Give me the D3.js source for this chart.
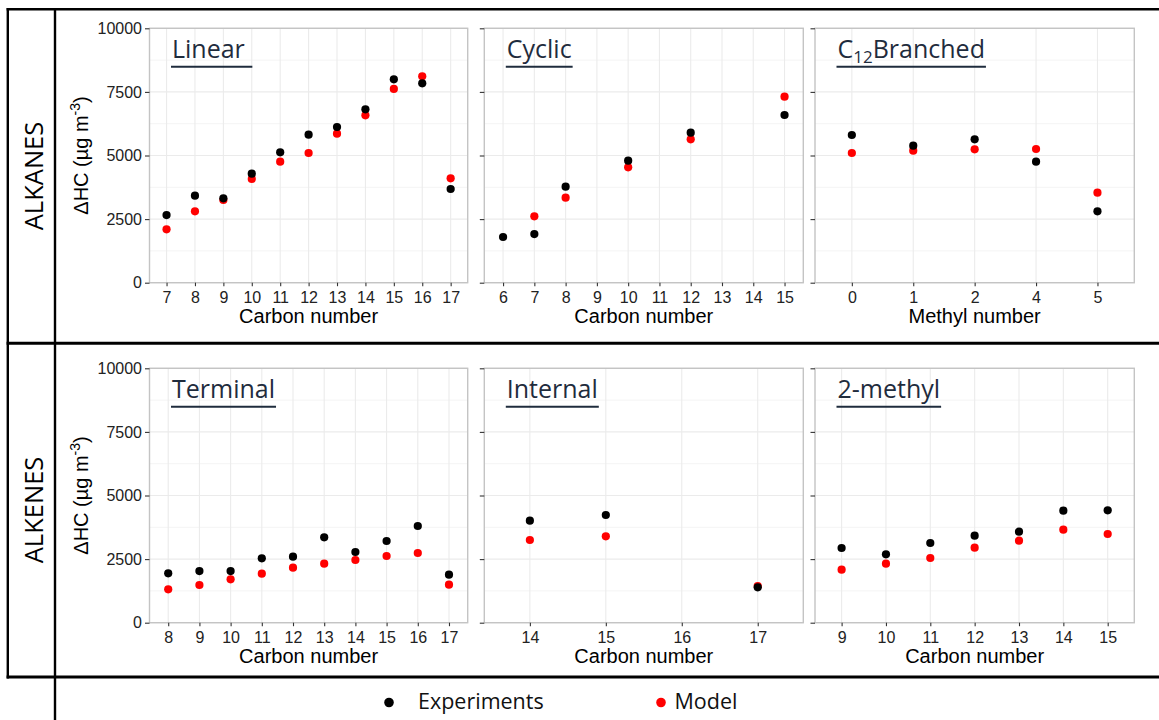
<!DOCTYPE html>
<html>
<head>
<meta charset="utf-8">
<script src="https://cdn.jsdelivr.net/npm/d3@7"></script>
<style>
  html, body { margin: 0; padding: 0; background: #fff; }
  svg { display: block; }
  .tick text { font-family: "Liberation Sans", Arial, sans-serif; }
</style>
</head>
<body>
<svg id="chart" width="1159" height="720"></svg>
<script>
// ---- data: ΔHC (µg m-3) per compound class ----
const yTicks = [0, 2500, 5000, 7500, 10000];
const yMinor = [1250, 3750, 6250, 8750];

// Alkanes
const linearCats   = ["7", "8", "9", "10", "11", "12", "13", "14", "15", "16", "17"];
const linearExp    = [2660, 3420, 3316, 4286, 5124, 5819, 6120, 6815, 7995, 7837, 3683];
const linearModel  = [2097, 2805, 3250, 4076, 4757, 5098, 5858, 6579, 7615, 8113, 4102];

const cyclicCats   = ["6", "7", "8", "9", "10", "11", "12", "13", "14", "15"];
const cyclicExp    = [1796, 1913, 3775, null, 4797, null, 5898, null, null, 6592];
const cyclicModel  = [null, 2608, 3342, null, 4535, null, 5636, null, null, 7313];

const branchedCats  = ["0", "1", "2", "4", "5"];
const branchedExp   = [5806, 5387, 5636, 4757, 2805];
const branchedModel = [5098, 5190, 5242, 5255, 3539];

// Alkenes
const terminalCats  = ["8", "9", "10", "11", "12", "13", "14", "15", "16", "17"];
const terminalExp   = [1940, 2031, 2031, 2529, 2595, 3355, 2779, 3211, 3801, 1887];
const terminalModel = [1311, 1481, 1704, 1927, 2163, 2320, 2464, 2621, 2739, 1494];

const internalCats  = ["14", "15", "16", "17"];
const internalExp   = [4010, 4233, null, 1389];
const internalModel = [3250, 3394, null, 1442];

const methylCats  = ["9", "10", "11", "12", "13", "14", "15"];
const methylExp   = [2936, 2687, 3132, 3421, 3578, 4404, 4417];
const methylModel = [2084, 2320, 2543, 2949, 3224, 3657, 3486];

const rowLabels = ["ALKANES", "ALKENES"];
const legendLabels = ["Experiments", "Model"];

// ---- layout ----
const svg = d3.select("#chart");
const colX = [[149.5, 467.7], [484.3, 803.3], [815, 1134.3]];
const rowY = [[28.3, 282.7], [368.3, 622.7]];
const expColor = "#000000", modelColor = "#ff0000";
const titleColor = "#1f2c3d";

const panels = [
  { row: 0, col: 0, title: [["Linear ", false]], cats: linearCats, exp: linearExp, model: linearModel, xTitle: "Carbon number" },
  { row: 0, col: 1, title: [["Cyclic", false]], cats: cyclicCats, exp: cyclicExp, model: cyclicModel, xTitle: "Carbon number" },
  { row: 0, col: 2, title: [["C", false], ["12", true], ["Branched", false]], cats: branchedCats, exp: branchedExp, model: branchedModel, xTitle: "Methyl number" },
  { row: 1, col: 0, title: [["Terminal", false]], cats: terminalCats, exp: terminalExp, model: terminalModel, xTitle: "Carbon number" },
  { row: 1, col: 1, title: [["Internal", false]], cats: internalCats, exp: internalExp, model: internalModel, xTitle: "Carbon number" },
  { row: 1, col: 2, title: [["2-methyl", false]], cats: methylCats, exp: methylExp, model: methylModel, xTitle: "Carbon number" }
];

function drawPanel(p) {
  const [x0, x1] = colX[p.col];
  const [yTop, yBot] = rowY[p.row];
  const x = d3.scalePoint().domain(p.cats).range([x0, x1]).padding(0.6);
  const y = d3.scaleLinear().domain([0, 10000]).range([yBot, yTop]);
  const g = svg.append("g");

  // background grid
  g.append("g").selectAll("line").data(yMinor).join("line")
    .attr("x1", x0).attr("x2", x1).attr("y1", d => y(d)).attr("y2", d => y(d))
    .attr("stroke", "#f4f4f4").attr("stroke-width", 1);
  g.append("g").selectAll("line").data(yTicks).join("line")
    .attr("x1", x0).attr("x2", x1).attr("y1", d => y(d)).attr("y2", d => y(d))
    .attr("stroke", "#ebebeb").attr("stroke-width", 1.1);
  g.append("g").selectAll("line").data(p.cats).join("line")
    .attr("x1", d => x(d)).attr("x2", d => x(d)).attr("y1", yTop).attr("y2", yBot)
    .attr("stroke", "#ebebeb").attr("stroke-width", 1.1);

  // panel border
  g.append("rect").attr("x", x0).attr("y", yTop).attr("width", x1 - x0).attr("height", yBot - yTop)
    .attr("fill", "none").attr("stroke", "#c4c4c4").attr("stroke-width", 1.4);

  // axes
  const yAxis = d3.axisLeft(y).tickValues(yTicks).tickSize(4.5).tickPadding(3)
    .tickFormat(p.col > 0 ? () => "" : d3.format("d"));
  const ya = g.append("g").attr("transform", `translate(${x0},0)`).call(yAxis);
  const xa = g.append("g").attr("transform", `translate(0,${yBot})`)
    .call(d3.axisBottom(x).tickSize(3.5).tickPadding(5));
  [ya, xa].forEach(a => {
    a.select(".domain").remove();
    a.selectAll(".tick line").attr("stroke", "#333").attr("stroke-width", 1.1);
    a.selectAll(".tick text").attr("fill", "#222").style("font-size", "16px");
  });

  // axis titles
  g.append("text")
    .attr("x", (x0 + x1) / 2).attr("y", yBot + 40)
    .attr("text-anchor", "middle")
    .style("font-family", "'Liberation Sans', Arial, sans-serif")
    .style("font-size", "20px").attr("fill", "#000")
    .text(p.xTitle);

  if (p.col === 0) {
    const yt = g.append("text")
      .attr("transform", `translate(87.5,${(yTop + yBot) / 2}) rotate(-90)`)
      .attr("text-anchor", "middle")
      .style("font-family", "'Liberation Sans', Arial, sans-serif")
      .style("font-size", "20px").attr("fill", "#000");
    yt.append("tspan").text("\u0394HC (\u00b5g m");
    yt.append("tspan").attr("dy", -8).style("font-size", "14px").text("-3");
    yt.append("tspan").attr("dy", 8).text(")");
  }

  // panel title, underlined
  const tx = x0 + 22.5, ty = yTop + 34.2;
  const t = g.append("text").attr("x", tx).attr("y", ty)
    .style("font-family", "'Open Sans', sans-serif").style("font-size", "25px")
    .style("white-space", "pre").attr("fill", titleColor);
  p.title.forEach(([s, sub]) => {
    if (sub) t.append("tspan").attr("dy", 5).style("font-size", "17px").text(s);
    else t.append("tspan").attr("dy", t.selectAll("tspan").size() ? -5 : 0).text(s);
  });
  const w = t.node().getComputedTextLength();
  g.append("line").attr("x1", tx - 1).attr("x2", tx + w + 1)
    .attr("y1", ty + 4.2).attr("y2", ty + 4.2)
    .attr("stroke", titleColor).attr("stroke-width", 2);

  // points: model first, experiments on top
  const pts = (vals) => p.cats.map((c, i) => ({ c, v: vals[i] })).filter(d => d.v != null);
  g.append("g").selectAll("circle").data(pts(p.model)).join("circle")
    .attr("cx", d => x(d.c)).attr("cy", d => y(d.v)).attr("r", 4.1).attr("fill", modelColor);
  g.append("g").selectAll("circle").data(pts(p.exp)).join("circle")
    .attr("cx", d => x(d.c)).attr("cy", d => y(d.v)).attr("r", 4.1).attr("fill", expColor);
}

panels.forEach(drawPanel);

// row labels
rowLabels.forEach((lab, i) => {
  svg.append("text")
    .attr("transform", `translate(42.5,${i === 0 ? 176 : 510}) rotate(-90)`)
    .attr("text-anchor", "middle")
    .style("font-family", "'Open Sans', sans-serif").style("font-size", "25.5px")
    .attr("fill", "#000").text(lab);
});

// frame lines
const frame = svg.append("g").attr("stroke", "#000").attr("fill", "none");
frame.append("line").attr("x1", 6.6).attr("x2", 1159).attr("y1", 9.3).attr("y2", 9.3).attr("stroke-width", 2.6);
frame.append("line").attr("x1", 6.6).attr("x2", 1159).attr("y1", 343.3).attr("y2", 343.3).attr("stroke-width", 3);
frame.append("line").attr("x1", 6.6).attr("x2", 1159).attr("y1", 677).attr("y2", 677).attr("stroke-width", 3);
frame.append("line").attr("x1", 7.8).attr("x2", 7.8).attr("y1", 8).attr("y2", 678.5).attr("stroke-width", 2.4);
frame.append("line").attr("x1", 55).attr("x2", 55).attr("y1", 8).attr("y2", 720).attr("stroke-width", 2.4);

// legend
const legendItems = [
  { label: legendLabels[0], color: expColor, cx: 389, tx: 418 },
  { label: legendLabels[1], color: modelColor, cx: 661, tx: 674.5 }
];
const lg = svg.append("g");
legendItems.forEach(d => {
  lg.append("circle").attr("cx", d.cx).attr("cy", 702.5).attr("r", 4.8).attr("fill", d.color);
  lg.append("text").attr("x", d.tx).attr("y", 708.5)
    .style("font-family", "'Open Sans', sans-serif").style("font-size", "21.5px")
    .attr("fill", "#111").text(d.label);
});
</script>
</body>
</html>
